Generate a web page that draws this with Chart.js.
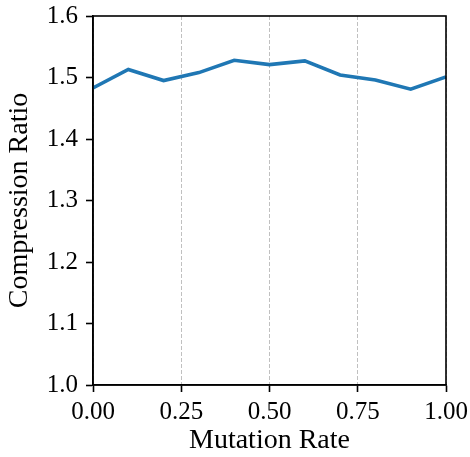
<!DOCTYPE html>
<html>
<head>
<meta charset="utf-8">
<script src="https://cdn.jsdelivr.net/npm/chart.js@4.4.0/dist/chart.umd.min.js"></script>
<style>
  html, body { margin: 0; padding: 0; background: #fff; }
  #wrap { width: 470px; height: 457px; }
</style>
</head>
<body>
<div id="wrap"><canvas id="canvas" width="470" height="457"></canvas></div>
<script>
const mutationRates = [0.0, 0.1, 0.2, 0.3, 0.4, 0.5, 0.6, 0.7, 0.8, 0.9, 1.0];
const compressionRatios = [1.483, 1.513, 1.495, 1.508, 1.528, 1.521, 1.527, 1.504, 1.496, 1.481, 1.501];
const xTicks = [0, 0.25, 0.5, 0.75, 1.0];
const yTicks = [1.0, 1.1, 1.2, 1.3, 1.4, 1.5, 1.6];

const FONT = "'Liberation Serif', serif";

// full black frame around the plot area
const framePlugin = {
  id: 'frame',
  afterDraw(chart) {
    const a = chart.chartArea, ctx = chart.ctx;
    ctx.save();
    ctx.strokeStyle = '#000';
    ctx.lineWidth = 1.6;
    ctx.strokeRect(a.left, a.top, a.right - a.left, a.bottom - a.top);
    ctx.restore();
  }
};

new Chart(document.getElementById('canvas').getContext('2d'), {
  type: 'line',
  data: {
    datasets: [{
      data: mutationRates.map((x, i) => ({x: x, y: compressionRatios[i]})),
      borderColor: '#1f77b4',
      borderWidth: 3.6,
      pointRadius: 0,
      tension: 0,
      fill: false
    }]
  },
  options: {
    responsive: false,
    animation: false,
    layout: { padding: { left: 0, right: 24, top: 16, bottom: 0 } },
    plugins: { legend: { display: false }, tooltip: { enabled: false } },
    scales: {
      x: {
        type: 'linear',
        min: 0, max: 1,
        afterBuildTicks: (s) => { s.ticks = xTicks.map(v => ({value: v})); },
        afterFit: (s) => { s.height = 72; s.paddingLeft = 0; s.paddingRight = 0; },
        ticks: {
          font: { family: FONT, size: 25 },
          color: '#000',
          padding: 5,
          maxRotation: 0,
          callback: (v) => Number(v).toFixed(2)
        },
        grid: {
          color: '#b0b0b0',
          lineWidth: 0.8,
          tickColor: '#000',
          tickWidth: 1.6,
          tickLength: 7,
          tickBorderDash: []
        },
        border: { display: true, color: '#000', width: 1.6, dash: [4, 2] },
        title: {
          display: true,
          text: 'Mutation Rate',
          font: { family: FONT, size: 28 },
          color: '#000',
          padding: { top: 0, bottom: 0 }
        }
      },
      y: {
        min: 1.0, max: 1.6,
        afterBuildTicks: (s) => { s.ticks = yTicks.map(v => ({value: v})); },
        afterFit: (s) => { s.width = 93; s.paddingTop = 0; s.paddingBottom = 0; },
        ticks: {
          font: { family: FONT, size: 25 },
          color: '#000',
          padding: 8,
          callback: (v) => Number(v).toFixed(1)
        },
        grid: {
          drawOnChartArea: false,
          color: '#000',
          tickColor: '#000',
          tickWidth: 1.6,
          tickLength: 7
        },
        border: { display: true, color: '#000', width: 1.6 },
        title: {
          display: true,
          text: 'Compression Ratio',
          font: { family: FONT, size: 28 },
          color: '#000',
          padding: { top: 3, bottom: 0 }
        }
      }
    }
  },
  plugins: [framePlugin]
});
</script>
</body>
</html>
